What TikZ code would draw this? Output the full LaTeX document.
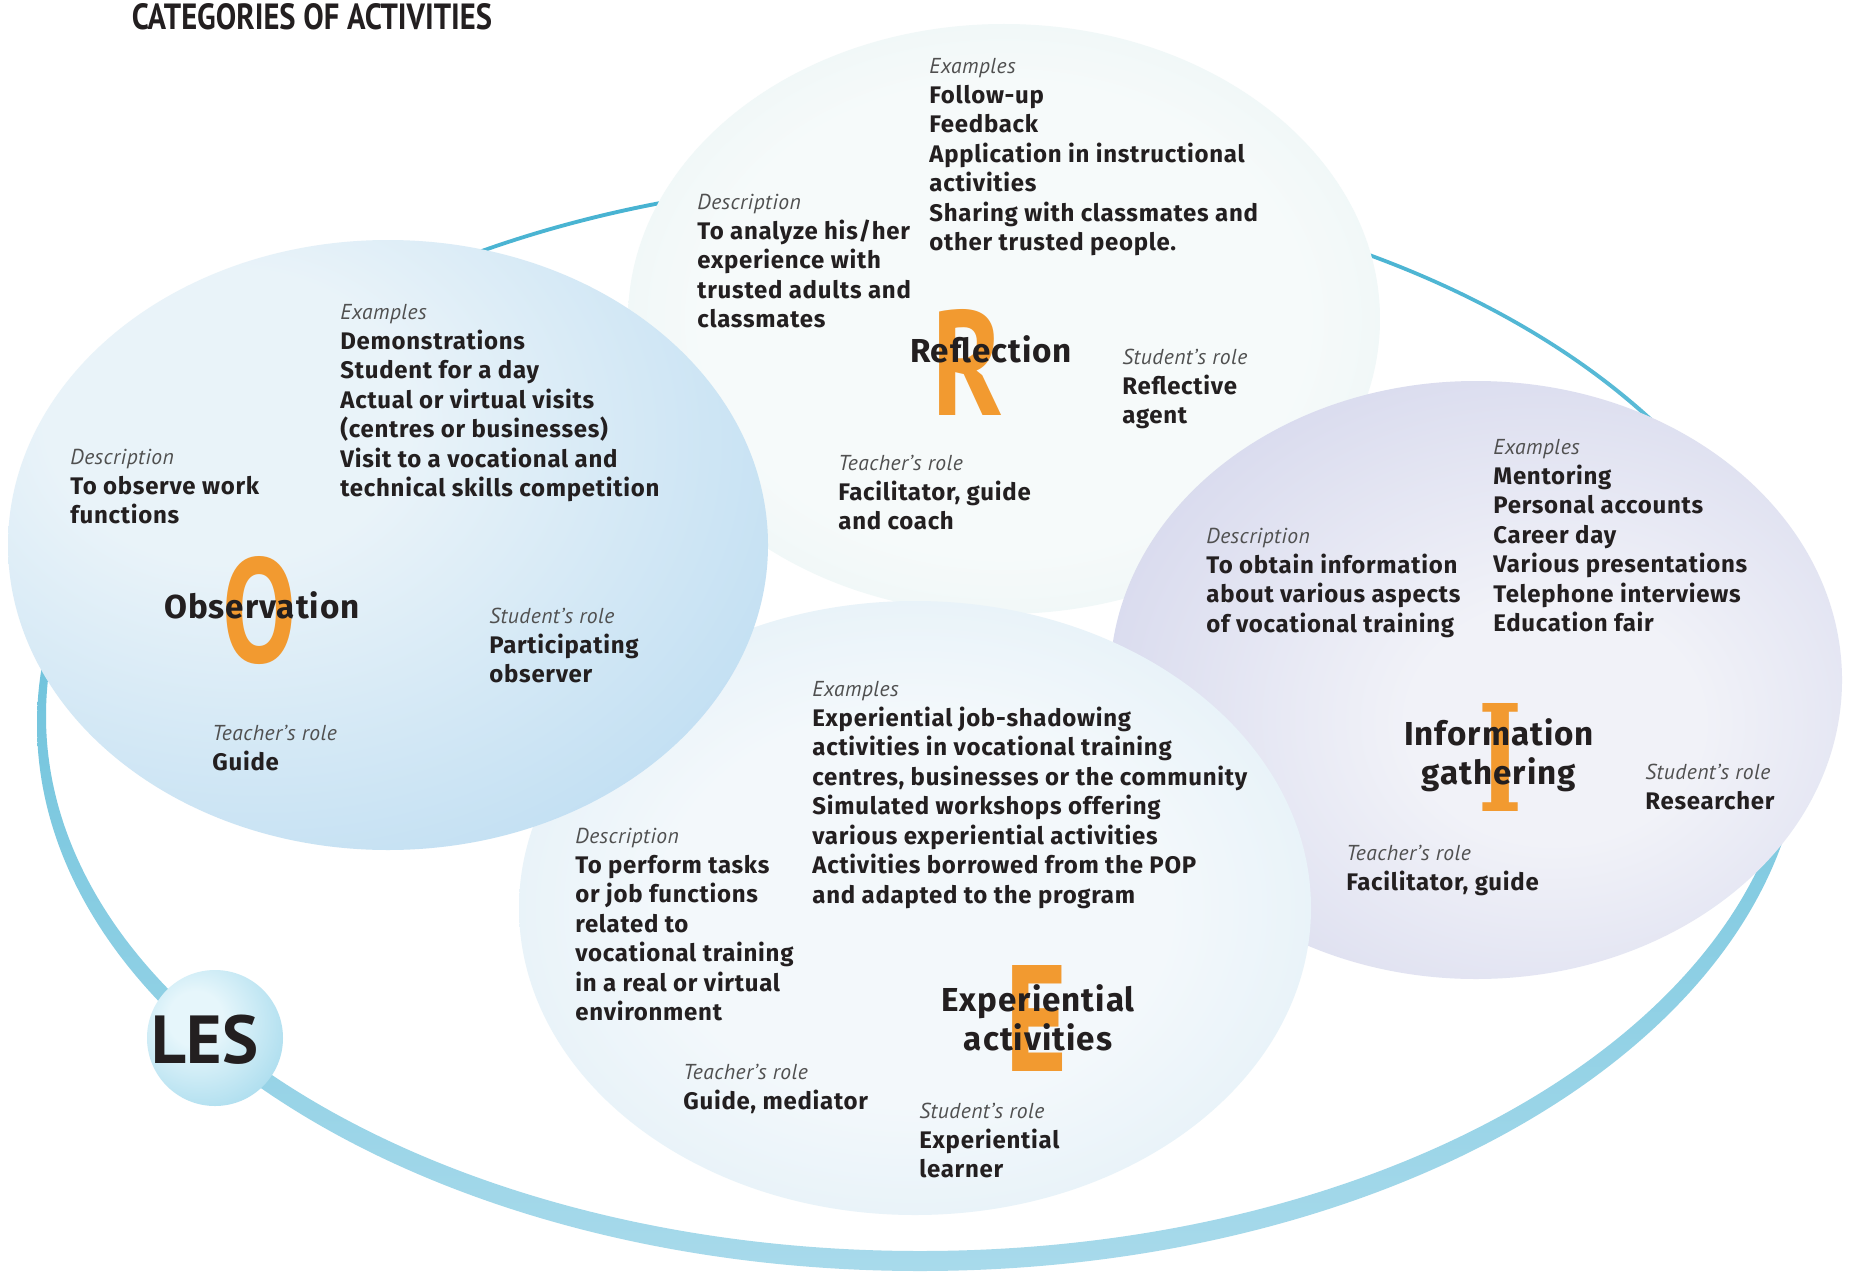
\documentclass[tikz,border=0pt]{standalone}
\usepackage{fontspec}
\setmainfont{Fira Sans}
\newfontfamily\bodyfam[LetterSpace=3]{Fira Sans}
\newfontfamily\labfam[LetterSpace=2]{PT Sans}
\newfontfamily\titlefam{PT Sans}
\newfontfamily\serifI{DejaVu Serif}
\usepackage{graphicx}
\definecolor{txt}{HTML}{231F20}
\definecolor{labgray}{HTML}{505050}
\definecolor{orng}{HTML}{F29A30}
\definecolor{ringTop}{HTML}{45B2D1}
\definecolor{ringBot}{HTML}{A8DAEB}
\definecolor{oIn}{HTML}{E9F3F9}
\definecolor{oOut}{HTML}{9ECDEC}
\definecolor{rIn}{HTML}{F6FAFA}
\definecolor{rOut}{HTML}{D4ECEC}
\definecolor{iIn}{HTML}{F1F2F8}
\definecolor{iOut}{HTML}{BCBFE2}
\definecolor{eIn}{HTML}{F3F8FB}
\definecolor{eOut}{HTML}{C8E2F2}
\definecolor{lIn}{HTML}{E6F6FB}
\definecolor{lOut}{HTML}{86CDE6}
\pgfdeclareradialshading{oshade}{\pgfpoint{-12bp}{12bp}}{color(0bp)=(oIn); color(12bp)=(oIn); color(60bp)=(oOut); color(100bp)=(oOut)}
\pgfdeclareradialshading{rshade}{\pgfpoint{0bp}{0bp}}{color(0bp)=(rIn); color(20bp)=(rIn); color(55bp)=(rOut); color(100bp)=(rOut)}
\pgfdeclareradialshading{ishade}{\pgfpoint{6bp}{-4bp}}{color(0bp)=(iIn); color(10bp)=(iIn); color(56bp)=(iOut); color(100bp)=(iOut)}
\pgfdeclareradialshading{eshade}{\pgfpoint{0bp}{0bp}}{color(0bp)=(eIn); color(16bp)=(eIn); color(55bp)=(eOut); color(100bp)=(eOut)}
\pgfdeclareradialshading{lshade}{\pgfpoint{-8bp}{8bp}}{color(0bp)=(lIn); color(10bp)=(lIn); color(50bp)=(lOut); color(100bp)=(lOut)}
\newcommand{\bodyf}{\bodyfam\fontsize{12}{14.75}\selectfont\bfseries}
\newcommand{\catf}{\bodyfam\fontsize{16.6}{19.5}\selectfont\bfseries}
\newcommand{\lab}[1]{{\labfam\fontsize{10.8}{14.75}\selectfont\mdseries\itshape\color{labgray}#1}}
\begin{document}
\begin{tikzpicture}[x=0.5pt,y=-0.5pt,
  blk/.style={anchor=north west,inner sep=0pt,align=left,font=\bodyf,text=txt},
  cat/.style={inner sep=0pt,align=center,font=\catf,text=txt},
  big/.style={inner sep=0pt,text=orng}]
\useasboundingbox[fill=white] (0,0) rectangle (1850,1273);
% ring
\shade[top color=ringTop,bottom color=ringBot,even odd rule]
  (920,724) ellipse [x radius=883, y radius=547]
  (920,716) ellipse [x radius=874, y radius=535];
% ellipses
\shade[shading=rshade] (1004,319) ellipse [x radius=376, y radius=295];
\shade[shading=ishade] (1476,680) ellipse [x radius=366, y radius=299];
\shade[shading=eshade] (915,908) ellipse [x radius=396, y radius=307];
\shade[shading=oshade] (388,545) ellipse [x radius=380, y radius=305];
% LES ball
\shade[shading=lshade] (215,1038) circle [radius=68];
\node[font=\titlefam\fontsize{34}{38}\selectfont\bfseries,text=txt,inner sep=0pt] (les) at (205,1040) {LES};
% title
\node[inner sep=0pt,text=txt] (title) at (312,17) {\resizebox{180pt}{13pt}{\titlefam\bfseries CATEGORIES OF ACTIVITIES}};
% big letters
\node[big] (bigO) at (260,611) {\resizebox{37pt}{53pt}{\titlefam\bfseries O}};
\node[big] (bigR) at (968,362) {\resizebox{35.5pt}{53pt}{\titlefam\bfseries R}};
\node[big] (bigI) at (1500,757) {\resizebox{22pt}{54pt}{\serifI\bfseries I}};
\node[big] (bigE) at (1036,1018) {\resizebox{31pt}{53pt}{\titlefam\bfseries E}};
% category names
\node[cat] (nO) at (262,605) {Observation};
\node[cat] (nR) at (991,349) {Reflection};
\node[cat] (nI) at (1499,755) {Information\\gathering};
\node[cat] (nE) at (1038,1018) {Experiential\\activities};
% Observation blocks
\node[blk] (oDesc) at (70,449) {\lab{Description}\\To observe work\\functions};
\node[blk] (oEx) at (340,304) {\lab{Examples}\\Demonstrations\\Student for a day\\Actual or virtual visits\\(centres or businesses)\\Visit to a vocational and\\technical skills competition};
\node[blk] (oStu) at (489,608) {\lab{Student’s role}\\Participating\\observer};
\node[blk] (oTea) at (212,725) {\lab{Teacher’s role}\\Guide};
% Reflection blocks
\node[blk] (rEx) at (929,58) {\lab{Examples}\\Follow-up\\Feedback\\Application in instructional\\activities\\Sharing with classmates and\\other trusted people.};
\node[blk] (rDesc) at (697,194) {\lab{Description}\\To analyze his/her\\experience with\\trusted adults and\\classmates};
\node[blk] (rStu) at (1122,349) {\lab{Student’s role}\\Reflective\\agent};
\node[blk] (rTea) at (838,455) {\lab{Teacher’s role}\\Facilitator, guide\\and coach};
% Information blocks
\node[blk] (iDesc) at (1206,528) {\lab{Description}\\To obtain information\\about various aspects\\of vocational training};
\node[blk] (iEx) at (1493,439) {\lab{Examples}\\Mentoring\\Personal accounts\\Career day\\Various presentations\\Telephone interviews\\Education fair};
\node[blk] (iStu) at (1645,764) {\lab{Student’s role}\\Researcher};
\node[blk] (iTea) at (1346,845) {\lab{Teacher’s role}\\Facilitator, guide};
% Experiential blocks
\node[blk] (eEx) at (812,681) {\lab{Examples}\\Experiential job-shadowing\\activities in vocational training\\centres, businesses or the community\\Simulated workshops offering\\various experiential activities\\Activities borrowed from the POP\\and adapted to the program};
\node[blk] (eDesc) at (575,828) {\lab{Description}\\To perform tasks\\or job functions\\related to\\vocational training\\in a real or virtual\\environment};
\node[blk] (eTea) at (683,1064) {\lab{Teacher’s role}\\Guide, mediator};
\node[blk] (eStu) at (919,1103) {\lab{Student’s role}\\Experiential\\learner};
\end{tikzpicture}
\end{document}
